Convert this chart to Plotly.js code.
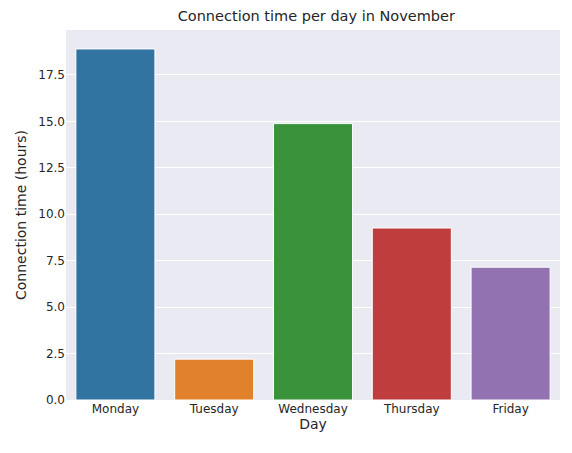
<!DOCTYPE html>
<html>
<head>
<script src="https://cdn.plot.ly/plotly-3.0.1.min.js"></script>
<style>body{margin:0}</style>
</head>
<body>
<div id="chart" style="width:572px;height:453px"></div>
<script>
const days = ['Monday', 'Tuesday', 'Wednesday', 'Thursday', 'Friday'];
const hours = [18.9, 2.2, 14.88, 9.26, 7.15];
const colors = ['#3274a1', '#e1812c', '#3a923a', '#c03d3e', '#9372b2'];

Plotly.newPlot('chart', [{
    type: 'bar',
    x: days,
    y: hours,
    marker: {color: colors, line: {color: '#ffffff', width: 1}}
}], {
    width: 572,
    height: 453,
    margin: {l: 66, r: 12, t: 30, b: 53},
    paper_bgcolor: '#ffffff',
    plot_bgcolor: '#eaeaf2',
    font: {family: 'DejaVu Sans, sans-serif', size: 12, color: '#262626'},
    title: {text: 'Connection time per day in November', font: {size: 14.5}, x: 0.553, y: 0.975},
    bargap: 0.2,
    xaxis: {
        title: {text: 'Day', standoff: 4},
        showgrid: false,
        ticks: '',
        range: [-0.5, 4.5]
    },
    yaxis: {
        title: {text: 'Connection time (hours)', standoff: 8},
        range: [0, 19.92],
        tickvals: [0, 2.5, 5, 7.5, 10, 12.5, 15, 17.5],
        ticktext: ['0.0', '2.5', '5.0', '7.5', '10.0', '12.5', '15.0', '17.5'],
        gridcolor: '#ffffff',
        zeroline: false,
        ticks: ''
    },
    showlegend: false
}, {displayModeBar: false});
</script>
</body>
</html>
